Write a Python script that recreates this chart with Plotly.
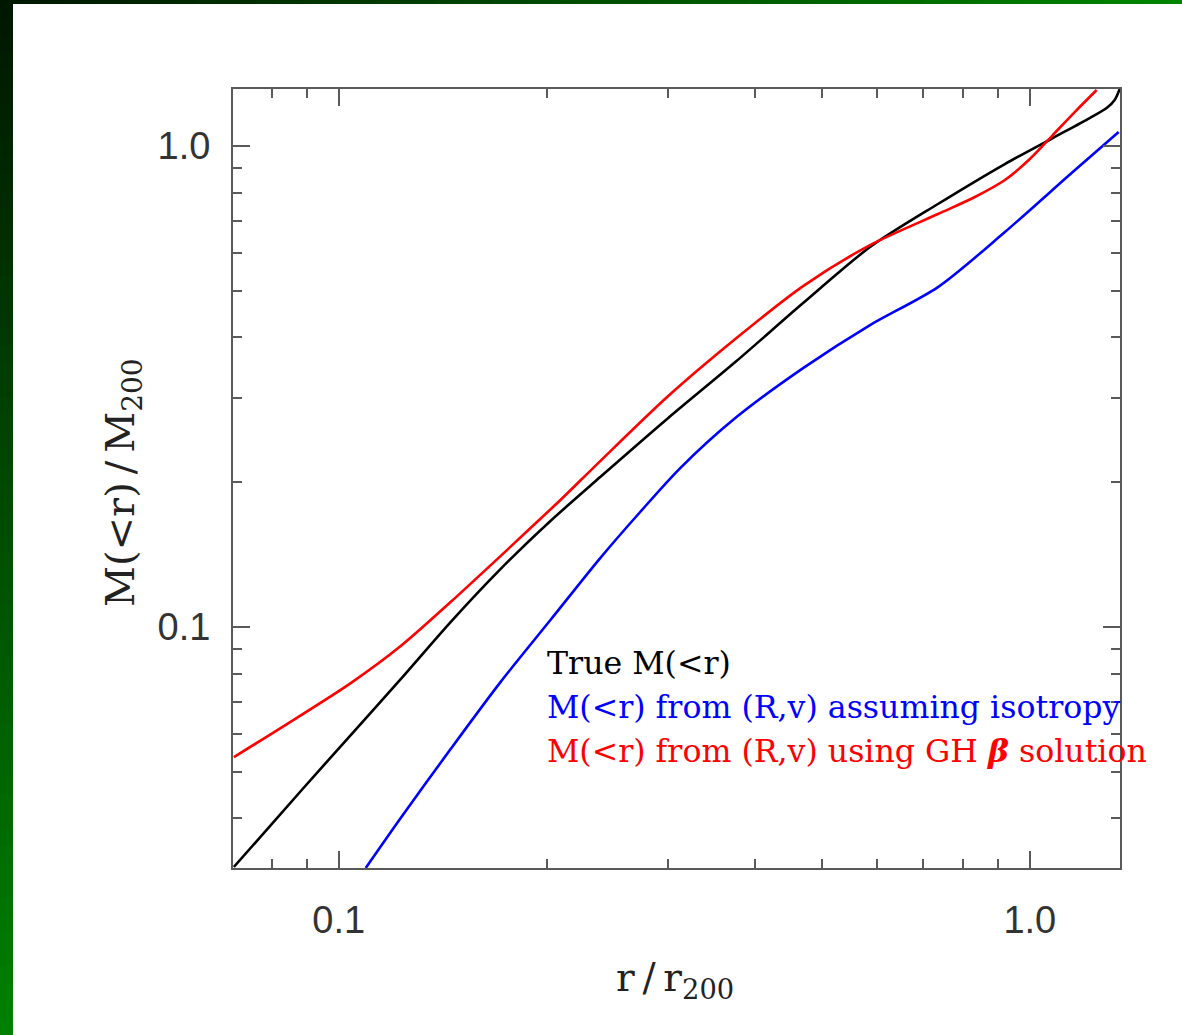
import plotly.graph_objects as go

# ---- data ----
r_true = [0.07051, 0.08814, 0.10408, 0.12293, 0.14517, 0.17140, 0.20245, 0.23898, 0.29978,
          0.37480, 0.46982, 0.58722, 0.73631, 0.92025, 1.07952, 1.22093, 1.29180, 1.32672, 1.34898]
m_true = [0.03170, 0.04561, 0.05963, 0.07794, 0.10242, 0.13197, 0.16613, 0.20499, 0.27197,
          0.35546, 0.47159, 0.61662, 0.75771, 0.91751, 1.03903, 1.14329, 1.19935, 1.24654, 1.31385]

r_iso = [0.10941, 0.12293, 0.14517, 0.17140, 0.20245, 0.23898, 0.27300, 0.31198, 0.37480,
         0.46982, 0.58722, 0.73631, 0.92025, 1.15370, 1.34449]
m_iso = [0.03155, 0.04008, 0.05575, 0.07683, 0.10340, 0.13910, 0.17344, 0.21402, 0.27197,
         0.34540, 0.42442, 0.50896, 0.66250, 0.88302, 1.06934]

r_gh = [0.07051, 0.08326, 0.10408, 0.12293, 0.14517, 0.17140, 0.18944, 0.20930, 0.23898, 0.29978,
        0.37480, 0.46982, 0.58722, 0.73631, 0.83280, 0.92025, 1.0, 1.07952, 1.16141, 1.24950]
m_gh = [0.05366, 0.06225, 0.07647, 0.09131, 0.11272, 0.14044, 0.16065, 0.18366, 0.22131, 0.30217,
        0.39696, 0.51141, 0.62256, 0.72227, 0.78351, 0.84980, 0.93967, 1.05406, 1.17663, 1.30757]

legend_labels = ["True M(&lt;r)",
                 "M(&lt;r) from (R,v) assuming isotropy",
                 "M(&lt;r) from (R,v) using GH <i><b>β</b></i> solution"]
x_major = [0.1, 1.0]
x_major_text = ["0.1", "1.0"]
x_minor = [0.08, 0.09, 0.2, 0.3, 0.4, 0.5, 0.6, 0.7, 0.8, 0.9]
y_major = [0.1, 1.0]
y_major_text = ["0.1", "1.0"]
y_minor = [0.04, 0.05, 0.06, 0.07, 0.08, 0.09, 0.2, 0.3, 0.4, 0.5, 0.6, 0.7, 0.8, 0.9]

W, H = 1182, 1035
L, R, T, B = 233, 62, 89, 167
PW, PH = W - L - R, H - T - B

fig = go.Figure()
line_w = 2.6
for xs, ys_, col in [(r_true, m_true, "black"), (r_iso, m_iso, "#0000ff"), (r_gh, m_gh, "#ff0000")]:
    fig.add_trace(go.Scatter(x=xs, y=ys_, mode="lines",
                             line=dict(color=col, width=line_w, shape="spline", smoothing=0.8),
                             showlegend=False))

axis_col = "#5a5a5a"
tickfont = dict(family="Liberation Sans", size=38, color="#333333")
common = dict(type="log", showgrid=False, zeroline=False, showline=True, linecolor=axis_col,
              linewidth=2, mirror="ticks", ticks="inside", ticklen=17, tickwidth=2,
              tickcolor=axis_col, tickfont=tickfont, tickmode="array")
fig.update_xaxes(**common, range=[-1.153, 0.1305], tickvals=x_major, ticktext=x_major_text,
                 ticklabelstandoff=17,
                 minor=dict(tickmode="array", tickvals=x_minor, ticks="inside", ticklen=9,
                            tickwidth=2, tickcolor=axis_col, showgrid=False))
fig.update_yaxes(**common, range=[-1.501, 0.1186], tickvals=y_major, ticktext=y_major_text,
                 ticklabelstandoff=13,
                 minor=dict(tickmode="array", tickvals=y_minor, ticks="inside", ticklen=9,
                            tickwidth=2, tickcolor=axis_col, showgrid=False))

def px_x(p):
    return (p - L) / PW

def px_y(p):
    return 1 - (p - T) / PH

shapes = []
N = 60
for i in range(N):
    t = i / (N - 1)
    g = int(24 + (128 - 24) * t)
    shapes.append(dict(type="rect", xref="paper", yref="paper",
                       x0=px_x(0), x1=px_x(13), y0=px_y(i * H / N), y1=px_y((i + 1) * H / N + 1),
                       fillcolor=f"rgb(0,{g},0)", line=dict(width=0), layer="below"))
for i in range(N):
    t = i / (N - 1)
    g = int(24 + (132 - 24) * t)
    shapes.append(dict(type="rect", xref="paper", yref="paper",
                       x0=px_x(i * W / N), x1=px_x((i + 1) * W / N + 1), y0=px_y(0), y1=px_y(4),
                       fillcolor=f"rgb(0,{g},0)", line=dict(width=0), layer="below"))

serif = "DejaVu Serif"
ann = []
colors = ["black", "#0000ff", "#ff0000"]
ys = [663, 707, 750]
for lab, c, yy in zip(legend_labels, colors, ys):
    ann.append(dict(text=lab, xref="paper", yref="paper", x=px_x(545), y=px_y(yy),
                    xanchor="left", yanchor="middle", showarrow=False,
                    font=dict(family=serif, size=31.6, color=c)))
ann.append(dict(text="r\u2009/\u2009r<sub>200</sub>", xref="paper", yref="paper", x=px_x(675), y=px_y(980),
                xanchor="center", yanchor="middle", showarrow=False,
                font=dict(family=serif, size=39, color="#222222")))
ann.append(dict(text="M(&lt;r)\u2009/\u2009M<sub>200</sub>", xref="paper", yref="paper", x=px_x(123), y=px_y(483),
                xanchor="center", yanchor="middle", showarrow=False, textangle=-90,
                font=dict(family=serif, size=40, color="#222222")))

fig.update_layout(width=W, height=H, margin=dict(l=L, r=R, t=T, b=B, autoexpand=False),
                  paper_bgcolor="white", plot_bgcolor="white",
                  shapes=shapes, annotations=ann)

fig.write_html("out.html")
